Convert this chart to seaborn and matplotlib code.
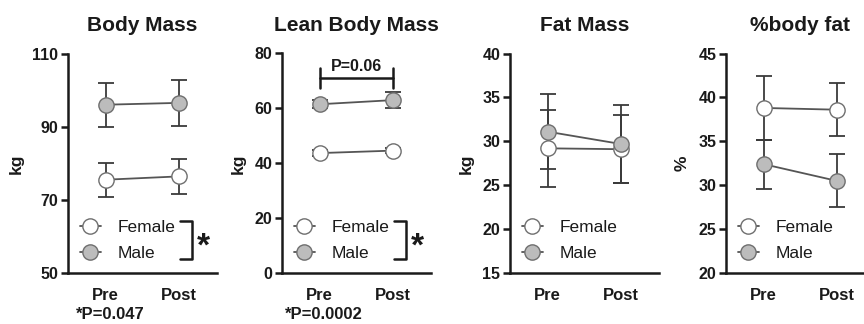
import numpy as np
import pandas as pd
import matplotlib.pyplot as plt
import seaborn as sns
from matplotlib.lines import Line2D

# ---- data (mean and error bar half-length) ----
timepoints = ["Pre", "Post"]
titles = ["Body Mass", "Lean Body Mass", "Fat Mass", "%body fat"]
ylabels = ["kg", "kg", "kg", "%"]

body_female = [75.5, 76.4]
body_female_err = [4.7, 4.7]
body_male = [96.0, 96.5]
body_male_err = [6.0, 6.3]

lean_female = [43.7, 44.6]
lean_female_err = [1.0, 1.0]
lean_male = [61.5, 63.0]
lean_male_err = [1.5, 2.8]

fat_female = [29.2, 29.1]
fat_female_err = [4.4, 3.9]
fat_male = [31.1, 29.7]
fat_male_err = [4.3, 4.4]

pct_female = [38.8, 38.6]
pct_female_err = [3.6, 3.0]
pct_male = [32.4, 30.5]
pct_male_err = [2.8, 3.0]

ylims = [(50, 110), (0, 80), (15, 40), (20, 45)]
yticks = [[50, 70, 90, 110], [0, 20, 40, 60, 80],
          [15, 20, 25, 30, 35, 40], [20, 25, 30, 35, 40, 45]]
footnotes = ["*P=0.047", "*P=0.0002", None, None]
group_star = [True, True, False, False]

# build one long table
rows = []
panels = [
    (body_female, body_female_err, body_male, body_male_err),
    (lean_female, lean_female_err, lean_male, lean_male_err),
    (fat_female, fat_female_err, fat_male, fat_male_err),
    (pct_female, pct_female_err, pct_male, pct_male_err),
]
for p, (fm, fe, mm, me) in enumerate(panels):
    for i, t in enumerate(timepoints):
        rows.append({"panel": p, "x": i, "time": t, "sex": "Female", "mean": fm[i], "err": fe[i]})
        rows.append({"panel": p, "x": i, "time": t, "sex": "Male", "mean": mm[i], "err": me[i]})
df = pd.DataFrame(rows)

# ---- style ----
sns.set_style("ticks")
plt.rcParams['font.family'] = ['Liberation Sans', 'DejaVu Sans']
plt.rcParams['axes.edgecolor'] = '#1a1a1a'

faces = {"Female": "white", "Male": "#bcbcbc"}
line_col = '#555555'
edge_col = '#6e6e6e'
ink = '#1a1a1a'

fig = plt.figure(figsize=(8.64, 3.24), dpi=100)

W, H = 864, 324
lefts = [68, 282, 510, 726]
ax_w = 149
bottom = 1 - 273 / H
height = (273 - 53.5) / H

for p in range(4):
    ax = fig.add_axes([lefts[p] / W, bottom, ax_w / W, height])
    sub = df[df["panel"] == p]
    for sex in ["Female", "Male"]:
        s = sub[sub["sex"] == sex]
        ax.errorbar(s["x"], s["mean"], yerr=s["err"], fmt='none',
                    ecolor='#3a3a3a', elinewidth=1.3, capsize=6, capthick=1.3, zorder=2)
        sns.lineplot(data=s, x="x", y="mean", ax=ax, color=line_col, lw=1.3,
                     marker='o', markersize=11, markerfacecolor=faces[sex],
                     markeredgecolor=edge_col, markeredgewidth=1.0,
                     legend=False, zorder=3)

    ax.set_xlim(-37.5 / 73, (ax_w - 37.5) / 73)
    ax.set_ylim(*ylims[p])
    ax.set_yticks(yticks[p])
    ax.set_xticks([0, 1])
    ax.set_xticklabels(timepoints)
    ax.tick_params(axis='x', length=0, pad=11, labelsize=12)
    ax.tick_params(axis='y', length=5, width=1.8, pad=2, labelsize=11.5, color=ink)
    for lab in ax.get_xticklabels() + ax.get_yticklabels():
        lab.set_fontweight('bold')
        lab.set_color(ink)
    ax.set_xlabel("")
    ax.set_ylabel(ylabels[p], fontsize=12.5, fontweight='bold', labelpad=6, color=ink)
    ax.set_title(titles[p], fontsize=15, fontweight='bold', pad=16, color=ink)
    sns.despine(ax=ax)
    for sp in ["left", "bottom"]:
        ax.spines[sp].set_linewidth(1.8)

    handles = [Line2D([], [], color=line_col, lw=1.3, marker='o', markersize=11,
                      markerfacecolor=faces[s], markeredgecolor=edge_col, markeredgewidth=1.0)
               for s in ["Female", "Male"]]
    leg = ax.legend(handles, ["Female", "Male"], loc='lower left', bbox_to_anchor=(0.08, 0.053),
                    frameon=False, fontsize=12.5, handlelength=1.2, handletextpad=1.0,
                    labelspacing=0.63, borderpad=0, borderaxespad=0)
    for t in leg.get_texts():
        t.set_color(ink)

    if group_star[p]:
        ax.plot([0.752, 0.83, 0.83, 0.752], [0.237, 0.237, 0.064, 0.064],
                transform=ax.transAxes, color=ink, lw=1.8, clip_on=False)
        ax.text(0.91, 0.12, "*", transform=ax.transAxes, ha='center', va='center',
                fontsize=24, fontweight='bold', color=ink)

    if footnotes[p]:
        ax.text(0.05 if p == 0 else 0.02, -0.19, footnotes[p], transform=ax.transAxes,
                ha='left', va='center', fontsize=12, fontweight='bold', color=ink)

    if p == 1:
        # P=0.06 bracket between Pre and Post (male)
        ax.plot([0, 1], [71.2, 71.2], color=ink, lw=1.8)
        ax.plot([0, 0], [67.5, 74.8], color=ink, lw=1.8)
        ax.plot([1, 1], [67.5, 74.8], color=ink, lw=1.8)
        ax.text(0.5, 72.6, "P=0.06", ha='center', va='bottom', fontsize=11.5,
                fontweight='bold', color=ink)

fig.savefig("out.png", dpi=100)
